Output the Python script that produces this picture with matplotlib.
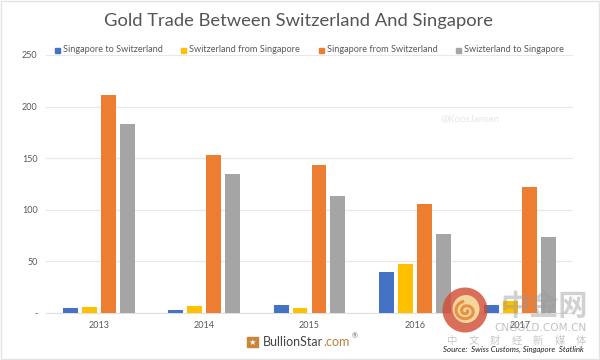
import matplotlib
matplotlib.use('Agg')
import matplotlib.pyplot as plt
import numpy as np
from matplotlib.patches import Circle, Rectangle, Ellipse

plt.rcParams['font.family'] = ['Lato', 'DejaVu Sans']

years = ['2013', '2014', '2015', '2016', '2017']
series_names = ['Singapore to Switzerland', 'Switzerland from Singapore',
                'Singapore from Switzerland', 'Swizterland to Singapore']
sg_to_ch = [5, 3, 8, 40, 8]
ch_from_sg = [6, 6.5, 5, 47, 12]
sg_from_ch = [211, 153, 143, 106, 122]
ch_to_sg = [183, 135, 113, 77, 74]
colors = ['#4472c4', '#ffc000', '#ed7d31', '#a5a5a5']
y_ticks = [0, 50, 100, 150, 200, 250]
y_labels = ['-', '50', '100', '150', '200', '250']

W, H = 600, 360
fig = plt.figure(figsize=(W / 100, H / 100), dpi=100)
ax = fig.add_axes([46 / W, 1 - 313 / H, 527 / W, 258 / H])

x = np.arange(len(years))
bar_w = 0.142
step = 0.18
all_series = [sg_to_ch, ch_from_sg, sg_from_ch, ch_to_sg]
for i, vals in enumerate(all_series):
    ax.bar(x + (i - 1.5) * step, vals, bar_w, color=colors[i], label=series_names[i], zorder=3)

ax.set_xlim(-0.5, 4.5)
ax.set_ylim(0, 250)
ax.set_xticks(x)
ax.set_xticklabels(years)
ax.set_yticks(y_ticks)
ax.set_yticklabels(y_labels)
ax.tick_params(length=0, labelsize=6.5, labelcolor='#595959', pad=6)
ax.yaxis.grid(True, color='#e8e8e8', lw=0.9, zorder=0)
for s in ['top', 'left', 'right']:
    ax.spines[s].set_visible(False)
ax.spines['bottom'].set_color('#e0e0e0')

fig.text(299 / W, 1 - 21 / H, 'Gold Trade Between Switzerland And Singapore', ha='center', va='center',
         fontsize=13.2, color='#555555')

# legend by hand so the spacing follows the reference
legend_x = [55, 181, 319, 456]
for name, c, lx in zip(series_names, colors, legend_x):
    fig.add_artist(Rectangle((lx / W, 1 - 52.5 / H), 5 / W, 5 / H, color=c, transform=fig.transFigure))
    fig.text((lx + 8) / W, 1 - 50 / H, name, ha='left', va='center', fontsize=6.6, color='#595959')

# watermark on the plot
fig.text(470 / W, 1 - 119 / H, '@KoosJansen', ha='center', va='center', fontsize=7, color='#e6e6e6')

# BullionStar logo
fig.add_artist(Rectangle((247 / W, 1 - 347 / H), 11 / W, 10 / H, color='#c9853a', transform=fig.transFigure))
fig.text(252.5 / W, 1 - 342 / H, '★', ha='center', va='center', fontsize=6, color='white',
         family='DejaVu Sans')
logo_x = 263
r = fig.canvas.get_renderer()
for part, c in zip(['BullionStar', '.com'], ['#444444', '#b5803f']):
    t = fig.text(logo_x / W, 1 - 342 / H, part, ha='left', va='center', fontsize=9, color=c)
    logo_x = t.get_window_extent(r).x1 + 0.3
fig.text((logo_x + 1) / W, 1 - 336 / H, '®', ha='left', va='center', fontsize=5, color='#666666')

fig.text(584 / W, 1 - 349.5 / H, 'Source:  Swiss Customs, Singapore  Statlink', ha='right', va='center',
         fontsize=5.7, style='italic', color='#222222')

# cngold watermark, pixel coordinates on a full-figure overlay
ov = fig.add_axes([0, 0, 1, 1], zorder=10)
ov.set_xlim(0, W)
ov.set_ylim(H, 0)
ov.axis('off')
ov.patch.set_alpha(0)
ov.add_patch(Circle((465, 310), 22.5, color='#d04a32', alpha=0.8, lw=0))
ov.add_patch(Ellipse((466, 309), 27, 28, color='#f8dca0', alpha=0.95, lw=0))
ang = np.linspace(0, 3.4 * np.pi, 80)
rad = np.linspace(1.5, 11, 80)
ov.plot(466 + rad * np.cos(ang), 311 + rad * np.sin(ang) * 0.9, color='#e58a3c', lw=2.2, alpha=0.9)
cn = ['Noto Sans CJK SC', 'DejaVu Sans']
ov.text(544, 306, '中金网', ha='center', va='center', fontsize=21, fontweight='bold', color='#9a9a9a',
        alpha=0.45, family=cn)
ov.text(540, 328, 'CNGOLD.COM.CN', ha='center', va='center', fontsize=7.6, color='#9a9a9a', alpha=0.6,
        family='DejaVu Sans')
for i, ch in enumerate('中文财经新媒体'):
    ov.text(452 + i * 21.5, 341, ch, ha='center', va='center', fontsize=7.5, color='#b0b0b0',
            alpha=0.7, family=cn)

# thin frame of the screenshot
ov.add_patch(Rectangle((1, 1), W - 2, H - 2, fill=False, ec='#e3e3e3', lw=1))

fig.savefig('out.png', dpi=100)
